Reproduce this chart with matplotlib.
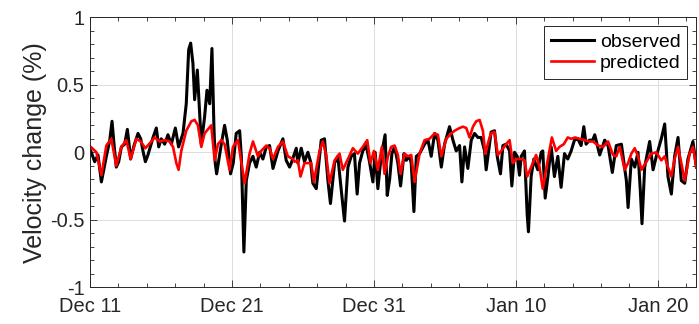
import matplotlib
matplotlib.use("Agg")
import matplotlib.pyplot as plt
import matplotlib.dates as mdates
import numpy as np
from datetime import datetime, timedelta

# days since Dec 11 / velocity change (%)
obs_day = [0.00, 0.05, 0.33, 0.56, 0.80, 1.15, 1.39, 1.55, 1.69, 1.85, 2.02, 2.21, 2.44, 2.63, 2.75,
           2.86, 3.10, 3.38, 3.57, 3.73, 3.90, 4.08, 4.27, 4.44, 4.67, 4.84, 5.02, 5.26, 5.49, 5.73,
           6.01, 6.24, 6.55, 6.78, 6.95, 7.09, 7.25, 7.37, 7.56, 7.72, 7.84, 8.07, 8.24, 8.43, 8.59,
           8.73, 8.82, 8.92, 9.25, 9.48, 9.67, 9.90, 10.09, 10.30, 10.54, 10.66, 10.84, 11.01, 11.24,
           11.48, 11.71, 11.95, 12.18, 12.42, 12.65, 12.89, 13.24, 13.59, 13.82, 14.06, 14.18, 14.53,
           14.64, 14.88, 15.11, 15.35, 15.54, 15.70, 15.94, 16.29, 16.52, 16.76, 16.94, 17.23, 17.46,
           17.70, 17.93, 18.17, 18.40, 18.63, 18.82, 18.99, 19.22, 19.46, 19.69, 19.93, 20.09, 20.28,
           20.51, 20.79, 20.94, 21.11, 21.27, 21.46, 21.69, 21.88, 22.12, 22.28, 22.52, 22.63, 22.82,
           22.99, 23.22, 23.57, 23.81, 24.04, 24.28, 24.51, 24.75, 24.98, 25.33, 25.57, 25.80, 26.04,
           26.20, 26.39, 26.62, 26.86, 27.09, 27.33, 27.56, 27.80, 27.91, 28.15, 28.26, 28.50, 28.69,
           28.92, 29.09, 29.32, 29.56, 29.72, 29.91, 30.10, 30.26, 30.38, 30.61, 30.80, 30.89, 31.08,
           31.27, 31.55, 31.79, 31.90, 32.07, 32.26, 32.49, 32.72, 32.96, 33.19, 33.43, 33.66, 33.90,
           34.13, 34.37, 34.60, 34.79, 34.95, 35.19, 35.42, 35.56, 35.91, 36.26, 36.50, 36.80, 37.08,
           37.44, 37.79, 37.91, 38.14, 38.38, 38.61, 38.77, 38.89, 39.08, 39.43, 39.67, 39.90, 40.25,
           40.49, 40.72, 40.96, 41.19, 41.43, 41.66, 41.90, 42.13, 42.48, 42.72]
obs_val = [0.02, 0.01, -0.07, -0.02, -0.22, -0.03, 0.09, 0.23, 0.06, -0.11, -0.07, 0.04, 0.06, 0.17, 0.06,
           -0.05, 0.05, 0.14, 0.10, 0.01, -0.07, -0.02, 0.05, 0.11, 0.18, 0.04, 0.10, 0.06, 0.13, 0.06,
           0.18, 0.04, 0.14, 0.36, 0.76, 0.81, 0.66, 0.39, 0.61, 0.29, 0.06, 0.26, 0.46, 0.36, 0.77,
           0.19, -0.08, -0.16, 0.06, 0.20, 0.09, -0.16, -0.08, 0.14, 0.16, -0.03, -0.74, -0.21, -0.08,
           -0.03, -0.11, 0.00, -0.05, 0.04, 0.05, -0.12, 0.01, 0.10, -0.06, -0.11, -0.08, 0.03,
           -0.08, 0.03, -0.07, 0.00, -0.07, -0.23, -0.27, 0.09, 0.10, -0.21, -0.38, -0.08, -0.03,
           -0.28, -0.51, -0.11, -0.03, -0.01, -0.31, -0.08, 0.01, 0.05, -0.07, -0.22, 0.00, -0.27,
           -0.03, 0.13, -0.32, -0.20, -0.01, 0.04, -0.08, -0.25, -0.01, -0.06, -0.03, -0.08, -0.44,
           -0.03, -0.01, 0.06, 0.09, -0.03, 0.14, 0.09, -0.11, 0.06, 0.19, 0.09, 0.01, 0.05,
           -0.22, 0.04, -0.12, 0.09, 0.14, 0.11, 0.11, 0.01, -0.13, 0.06, 0.15, 0.16, -0.03,
           -0.16, 0.05, 0.06, 0.01, -0.25, 0.00, -0.03, -0.17, -0.03, 0.01, -0.46, -0.59, -0.18,
           -0.05, -0.13, 0.00, 0.01, -0.34, -0.18, 0.04, -0.18, -0.03, -0.26, -0.01, -0.05, 0.01,
           0.09, 0.10, 0.05, 0.19, 0.06, 0.09, 0.09, 0.13, -0.02, 0.09, 0.05, -0.15, 0.05,
           0.06, -0.21, -0.41, -0.05, -0.11, 0.00, -0.28, -0.53, -0.11, 0.08, -0.13, -0.03, 0.10,
           0.21, -0.18, -0.31, -0.03, 0.11, -0.21, -0.23, -0.05, 0.08, -0.11]

pred_day = [0.00, 0.05, 0.45, 0.80, 1.15, 1.50, 1.85, 2.21, 2.56, 2.86, 3.26, 3.57, 3.90, 4.32, 4.55,
            4.91, 5.26, 5.61, 5.85, 6.08, 6.24, 6.43, 6.78, 7.14, 7.37, 7.60, 7.84, 8.07, 8.54, 8.78,
            9.01, 9.25, 9.48, 9.83, 10.07, 10.42, 10.89, 11.24, 11.48, 11.83, 12.06, 12.42, 12.65,
            12.89, 13.24, 13.59, 13.94, 14.29, 14.41, 14.64, 14.83, 15.11, 15.58, 15.77, 16.17, 16.40,
            16.64, 16.87, 17.23, 17.58, 17.81, 18.17, 18.52, 18.87, 19.22, 19.53, 19.76, 20.00, 20.28,
            20.56, 20.75, 20.99, 21.22, 21.46, 21.69, 21.88, 22.16, 22.40, 22.63, 22.87, 23.22, 23.57,
            23.92, 24.28, 24.51, 24.75, 25.10, 25.45, 25.69, 26.04, 26.27, 26.51, 26.74, 26.98, 27.21,
            27.45, 27.68, 27.85, 28.15, 28.26, 28.50, 28.73, 28.97, 29.32, 29.56, 29.79, 30.03, 30.38,
            30.61, 30.80, 31.08, 31.43, 31.67, 31.90, 32.21, 32.37, 32.54, 32.84, 33.08, 33.38, 33.66,
            33.90, 34.18, 34.48, 34.84, 35.19, 35.44, 35.79, 36.15, 36.50, 36.85, 37.08, 37.32, 37.67,
            37.91, 38.14, 38.38, 38.61, 38.85, 39.20, 39.55, 39.90, 40.25, 40.49, 40.72, 40.96, 41.19,
            41.43, 41.66, 41.90, 42.25, 42.48, 42.72]
pred_val = [0.03, 0.04, 0.00, -0.17, 0.05, 0.10, -0.10, 0.04, 0.09, -0.05, 0.10, 0.08, 0.03, 0.08, 0.11,
            0.08, 0.09, 0.08, 0.04, -0.08, -0.13, 0.01, 0.16, 0.23, 0.24, 0.20, 0.04, 0.14, 0.20, -0.06,
            0.06, 0.09, 0.06, -0.13, 0.04, 0.09, -0.23, -0.01, 0.08, -0.03, 0.01, 0.05, 0.03,
            -0.05, 0.04, 0.08, -0.03, -0.05, -0.07, -0.06, -0.18, -0.08, -0.08, -0.22, 0.01, 0.08,
            -0.02, -0.23, -0.06, -0.01, -0.13, -0.05, 0.03, -0.01, 0.04, 0.09, -0.08, 0.01, -0.13,
            0.04, -0.16, -0.03, 0.04, 0.05, -0.02, -0.16, -0.01, -0.03, -0.02, -0.22, -0.01, 0.09,
            0.10, 0.14, 0.13, -0.03, 0.10, 0.14, 0.16, 0.18, 0.19, 0.18, 0.11, 0.19, 0.23,
            0.24, 0.16, -0.01, 0.11, 0.14, 0.15, -0.02, 0.01, 0.06, 0.09, -0.08, -0.05, -0.05,
            -0.06, -0.18, -0.11, -0.02, -0.11, -0.27, -0.08, 0.01, 0.11, 0.01, 0.04, 0.06, 0.11,
            0.10, 0.11, 0.10, 0.09, 0.08, 0.08, 0.05, 0.04, 0.08, -0.02, -0.03, 0.04, -0.13,
            -0.08, -0.01, 0.03, -0.03, -0.13, -0.07, -0.01, 0.00, -0.06, -0.03, -0.11, -0.18, -0.05,
            0.04, -0.08, -0.21, -0.01, 0.04, -0.11]

start = datetime(2018, 12, 11)
obs_t = [start + timedelta(days=d) for d in obs_day]
pred_t = [start + timedelta(days=d) for d in pred_day]

plt.rcParams['font.family'] = ['Liberation Sans', 'DejaVu Sans']
txt = '#262626'

fig = plt.figure(figsize=(6.99, 3.24), dpi=100)
ax = fig.add_axes([0.1288, 0.114, 0.867, 0.832])

ax.plot(obs_t, obs_val, color='black', lw=2.2, label='observed')
ax.plot(pred_t, pred_val, color='red', lw=1.9, label='predicted')

ax.set_xlim(start, start + timedelta(days=42.7))
ax.set_ylim(-1, 1)

ax.set_xticks([start + timedelta(days=k) for k in range(0, 43, 10)])
ax.set_xticks([start + timedelta(days=k) for k in range(0, 43, 2)], minor=True)
ax.xaxis.set_major_formatter(mdates.DateFormatter('%b %d'))
ax.set_yticks([-1, -0.5, 0, 0.5, 1])
ax.set_yticklabels(['-1', '-0.5', '0', '0.5', '1'])
ax.set_yticks(np.arange(-1, 1.01, 0.1), minor=True)

ax.tick_params(which='both', direction='in', top=True, right=True, colors=txt,
               labelsize=14.5, width=0.6)
ax.tick_params(which='major', length=5)
ax.tick_params(which='minor', length=3)
ax.tick_params(axis='x', pad=7)
ax.tick_params(axis='y', pad=4)
for s in ax.spines.values():
    s.set_color(txt)
    s.set_linewidth(0.7)
ax.grid(True, which='major', color='#dcdcdc', lw=0.7)
ax.set_axisbelow(True)

ax.set_ylabel('Velocity change (%)', fontsize=18, color=txt, labelpad=2)

leg = ax.legend(loc='upper right', fontsize=14, frameon=True, fancybox=False,
                edgecolor=txt, framealpha=1, handlelength=2.2, borderpad=0.35,
                labelspacing=0.2, handletextpad=0.3, borderaxespad=0.45)
leg.get_frame().set_linewidth(0.7)

fig.savefig('out.png', dpi=100)
